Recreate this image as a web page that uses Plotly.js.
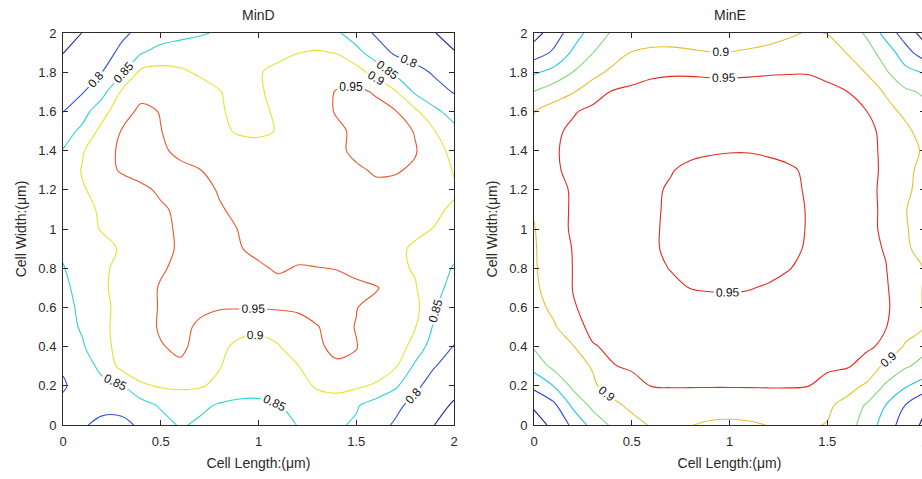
<!DOCTYPE html>
<html><head><meta charset="utf-8">
<script src="https://cdn.plot.ly/plotly-3.0.1.min.js"></script>
<style>html,body{margin:0;padding:0;overflow:hidden;background:#fff}</style>
</head><body><div id="chart"></div>
<script>
// ---------- data ----------
const xCoords = [0,0.1,0.2,0.3,0.4,0.5,0.6,0.7,0.8,0.9,1.0,1.1,1.2,1.3,1.4,1.5,1.6,1.7,1.8,1.9,2.0];
const yCoords = [0,0.1,0.2,0.3,0.4,0.5,0.6,0.7,0.8,0.9,1.0,1.1,1.2,1.3,1.4,1.5,1.6,1.7,1.8,1.9,2.0];
const xTickVals = [0,0.5,1,1.5,2];
const xTickText = ['0','0.5','1','1.5','2'];
const yTickVals = [0,0.2,0.4,0.6,0.8,1,1.2,1.4,1.6,1.8,2];
const yTickText = ['0','0.2','0.4','0.6','0.8','1','1.2','1.4','1.6','1.8','2'];
const panelTitles = ['MinD','MinE'];
const xLabel = 'Cell Length:(\u03bcm)';
const yLabel = 'Cell Width:(\u03bcm)';
const levelsMinD = [0.75,0.8,0.85,0.9,0.95];
const levelsMinE = [0.7,0.75,0.8,0.85,0.9,0.95];

// rows: y = 0 ... 2, columns: x = 0 ... 2
const zMinD = [
[0.812,0.803,0.793,0.792,0.805,0.830,0.855,0.842,0.832,0.825,0.826,0.835,0.851,0.862,0.857,0.843,0.815,0.795,0.773,0.750,0.735],
[0.810,0.810,0.808,0.810,0.830,0.856,0.868,0.860,0.845,0.838,0.838,0.848,0.866,0.878,0.875,0.855,0.828,0.810,0.787,0.765,0.745],
[0.795,0.820,0.838,0.847,0.892,0.905,0.908,0.905,0.888,0.875,0.872,0.876,0.885,0.905,0.915,0.908,0.893,0.858,0.810,0.780,0.764],
[0.805,0.828,0.862,0.915,0.932,0.940,0.945,0.930,0.903,0.875,0.868,0.877,0.898,0.930,0.945,0.945,0.932,0.905,0.842,0.802,0.781],
[0.825,0.845,0.886,0.915,0.932,0.948,0.956,0.940,0.910,0.890,0.885,0.897,0.922,0.945,0.958,0.951,0.935,0.930,0.880,0.825,0.799],
[0.830,0.856,0.890,0.915,0.935,0.954,0.958,0.945,0.930,0.915,0.910,0.918,0.932,0.949,0.958,0.949,0.935,0.920,0.903,0.843,0.811],
[0.835,0.860,0.890,0.912,0.935,0.953,0.960,0.956,0.953,0.953,0.953,0.955,0.957,0.958,0.956,0.951,0.940,0.925,0.915,0.853,0.823],
[0.840,0.866,0.893,0.915,0.935,0.953,0.965,0.968,0.968,0.966,0.962,0.960,0.962,0.962,0.960,0.958,0.953,0.935,0.904,0.865,0.835],
[0.848,0.868,0.892,0.912,0.930,0.946,0.958,0.965,0.965,0.962,0.955,0.946,0.952,0.951,0.949,0.940,0.925,0.910,0.896,0.868,0.847],
[0.856,0.872,0.888,0.904,0.921,0.939,0.955,0.962,0.962,0.952,0.942,0.942,0.940,0.935,0.930,0.923,0.914,0.906,0.896,0.878,0.861],
[0.870,0.885,0.903,0.915,0.928,0.942,0.955,0.962,0.960,0.949,0.940,0.937,0.935,0.933,0.930,0.926,0.920,0.913,0.906,0.899,0.885],
[0.875,0.890,0.905,0.918,0.932,0.945,0.957,0.960,0.952,0.945,0.940,0.938,0.938,0.937,0.935,0.932,0.928,0.922,0.915,0.906,0.895],
[0.880,0.897,0.912,0.927,0.942,0.956,0.962,0.958,0.948,0.940,0.935,0.935,0.935,0.937,0.940,0.943,0.944,0.940,0.930,0.918,0.905],
[0.870,0.903,0.932,0.955,0.965,0.965,0.960,0.951,0.940,0.930,0.925,0.925,0.930,0.935,0.940,0.946,0.953,0.953,0.945,0.925,0.897],
[0.852,0.896,0.932,0.958,0.968,0.957,0.940,0.928,0.920,0.915,0.915,0.920,0.927,0.935,0.944,0.956,0.965,0.965,0.953,0.925,0.881],
[0.826,0.862,0.915,0.952,0.965,0.951,0.935,0.920,0.907,0.896,0.893,0.902,0.915,0.930,0.943,0.957,0.965,0.965,0.948,0.902,0.862],
[0.799,0.830,0.882,0.931,0.960,0.948,0.930,0.918,0.905,0.888,0.893,0.905,0.922,0.935,0.953,0.965,0.965,0.953,0.910,0.860,0.832],
[0.783,0.797,0.833,0.905,0.935,0.940,0.930,0.915,0.902,0.885,0.895,0.912,0.925,0.937,0.952,0.960,0.945,0.905,0.843,0.818,0.797],
[0.767,0.784,0.800,0.842,0.912,0.915,0.906,0.895,0.885,0.882,0.897,0.910,0.920,0.930,0.935,0.920,0.881,0.839,0.816,0.794,0.774],
[0.749,0.767,0.785,0.808,0.846,0.870,0.880,0.878,0.872,0.870,0.876,0.890,0.899,0.904,0.898,0.865,0.825,0.793,0.779,0.766,0.752],
[0.728,0.751,0.772,0.793,0.809,0.821,0.833,0.845,0.855,0.862,0.868,0.874,0.878,0.872,0.857,0.825,0.794,0.780,0.766,0.751,0.737]
];

const zMinE = [
[0.680,0.710,0.761,0.817,0.858,0.884,0.904,0.906,0.901,0.895,0.893,0.895,0.901,0.905,0.905,0.898,0.870,0.830,0.776,0.725,0.690],
[0.706,0.738,0.810,0.862,0.888,0.910,0.920,0.922,0.920,0.917,0.917,0.920,0.925,0.925,0.920,0.908,0.885,0.845,0.799,0.749,0.705],
[0.762,0.801,0.862,0.893,0.920,0.937,0.951,0.953,0.953,0.953,0.953,0.953,0.953,0.953,0.951,0.940,0.918,0.893,0.843,0.805,0.775],
[0.818,0.862,0.885,0.903,0.948,0.955,0.957,0.957,0.957,0.957,0.957,0.957,0.957,0.956,0.956,0.955,0.954,0.935,0.888,0.855,0.835],
[0.855,0.873,0.897,0.947,0.957,0.960,0.960,0.960,0.960,0.960,0.960,0.960,0.960,0.960,0.960,0.959,0.957,0.956,0.942,0.893,0.860],
[0.870,0.893,0.935,0.960,0.962,0.963,0.963,0.963,0.963,0.963,0.963,0.963,0.963,0.963,0.963,0.962,0.960,0.957,0.951,0.925,0.899],
[0.880,0.912,0.948,0.958,0.962,0.963,0.963,0.962,0.960,0.958,0.956,0.957,0.958,0.960,0.962,0.963,0.962,0.958,0.955,0.930,0.895],
[0.890,0.925,0.951,0.962,0.963,0.962,0.960,0.955,0.9495,0.948,0.948,0.949,0.952,0.956,0.960,0.962,0.962,0.960,0.953,0.930,0.895],
[0.895,0.925,0.951,0.960,0.961,0.960,0.956,0.949,0.945,0.943,0.942,0.942,0.944,0.949,0.955,0.959,0.961,0.958,0.951,0.925,0.897],
[0.896,0.925,0.952,0.960,0.960,0.958,0.953,0.946,0.942,0.940,0.939,0.939,0.941,0.945,0.952,0.957,0.960,0.958,0.948,0.910,0.875],
[0.898,0.928,0.957,0.960,0.960,0.958,0.953,0.946,0.942,0.939,0.938,0.938,0.940,0.944,0.951,0.957,0.960,0.957,0.945,0.905,0.872],
[0.903,0.930,0.956,0.960,0.960,0.958,0.953,0.947,0.942,0.939,0.938,0.938,0.940,0.944,0.951,0.957,0.960,0.957,0.945,0.902,0.875],
[0.905,0.935,0.955,0.960,0.960,0.958,0.953,0.948,0.943,0.940,0.939,0.939,0.941,0.945,0.952,0.957,0.959,0.956,0.945,0.910,0.880],
[0.905,0.945,0.958,0.962,0.962,0.960,0.955,0.951,0.946,0.944,0.943,0.943,0.944,0.947,0.953,0.958,0.960,0.958,0.945,0.912,0.885],
[0.905,0.945,0.962,0.965,0.965,0.963,0.960,0.957,0.954,0.952,0.951,0.951,0.953,0.956,0.960,0.962,0.962,0.957,0.945,0.918,0.893],
[0.905,0.940,0.960,0.965,0.965,0.965,0.964,0.963,0.962,0.961,0.961,0.961,0.962,0.963,0.964,0.965,0.965,0.958,0.942,0.910,0.880],
[0.899,0.920,0.945,0.963,0.968,0.968,0.968,0.968,0.968,0.968,0.968,0.968,0.968,0.968,0.968,0.968,0.962,0.951,0.915,0.890,0.862],
[0.852,0.877,0.897,0.925,0.953,0.960,0.965,0.965,0.965,0.965,0.965,0.965,0.965,0.965,0.965,0.960,0.951,0.925,0.895,0.858,0.843],
[0.793,0.815,0.851,0.885,0.910,0.930,0.942,0.946,0.946,0.944,0.944,0.945,0.947,0.948,0.948,0.940,0.920,0.898,0.855,0.815,0.795],
[0.725,0.757,0.808,0.849,0.878,0.902,0.910,0.910,0.905,0.901,0.901,0.905,0.910,0.915,0.920,0.915,0.899,0.868,0.830,0.770,0.720],
[0.680,0.725,0.775,0.821,0.855,0.865,0.872,0.876,0.877,0.877,0.877,0.880,0.885,0.894,0.903,0.899,0.874,0.844,0.781,0.725,0.680]
];

// ---------- styles ----------
const colorsMinD = ['#26249a','#2f56d6','#2fd2d6','#e4e232','#ea562e'];
const colorsMinE = ['#1e1e8c','#2d44e0','#25c6e6','#84d67c','#e8c02e','#e62a20'];
const FONT = 'Liberation Sans, Arial, Helvetica, sans-serif';
const textColor = '#2a2a2a';

function levelTraces(z, levels, colors, xa, ya) {
  return levels.map((L, i) => ({
    type: 'contour', x: xCoords, y: yCoords, z: z,
    xaxis: xa, yaxis: ya, showscale: false, autocontour: false, hoverinfo: 'skip',
    contours: { start: L, end: L + 0.001, size: 0.05, coloring: 'none', showlabels: true,
      labelfont: { family: FONT, size: 12, color: '#111' }, labelformat: '.2~f' },
    line: { color: colors[i], width: 1.1, smoothing: 1 }
  }));
}

const traces = [].concat(
  levelTraces(zMinD, levelsMinD, colorsMinD, 'x', 'y'),
  levelTraces(zMinE, levelsMinE, colorsMinE, 'x2', 'y2')
);

function xAxis(domain, anchor) {
  return { domain: domain, anchor: anchor, range: [0, 2], tickvals: xTickVals, ticktext: xTickText,
    ticks: 'inside', ticklen: 5, tickcolor: textColor, showline: true, linecolor: textColor, linewidth: 1,
    mirror: 'ticks', showgrid: false, zeroline: false, fixedrange: true, ticklabelstandoff: 4,
    tickfont: { family: FONT, size: 13, color: textColor },
    title: { text: xLabel, font: { family: FONT, size: 14, color: textColor }, standoff: 10 } };
}
function yAxis(anchor) {
  return { domain: [0, 1], anchor: anchor, range: [0, 2], tickvals: yTickVals, ticktext: yTickText,
    ticks: 'inside', ticklen: 5, tickcolor: textColor, showline: true, linecolor: textColor, linewidth: 1,
    mirror: 'ticks', showgrid: false, zeroline: false, fixedrange: true, ticklabelstandoff: 3,
    tickfont: { family: FONT, size: 13, color: textColor },
    title: { text: yLabel, font: { family: FONT, size: 14, color: textColor }, standoff: 8 } };
}

const plotW = 862; // px, from 63 to 925
const leftFrac = 391 / plotW;
const rightStart = (534 - 63) / plotW;

const layout = {
  width: 940, height: 479,
  margin: { l: 63, r: 15, t: 33, b: 54 },
  paper_bgcolor: '#fff', plot_bgcolor: '#fff',
  showlegend: false,
  xaxis: xAxis([0, leftFrac], 'y'),
  yaxis: yAxis('x'),
  xaxis2: xAxis([rightStart, 1], 'y2'),
  yaxis2: yAxis('x2'),
  annotations: panelTitles.map((t, i) => ({
    text: t, xref: (i === 0 ? 'x domain' : 'x2 domain'), yref: 'paper', x: 0.5, y: 1,
    xanchor: 'center', yanchor: 'bottom', yshift: 8, showarrow: false,
    font: { family: FONT, size: 14, color: textColor }
  }))
};

Plotly.newPlot('chart', traces, layout, { staticPlot: true, displayModeBar: false });
</script>
</body></html>
